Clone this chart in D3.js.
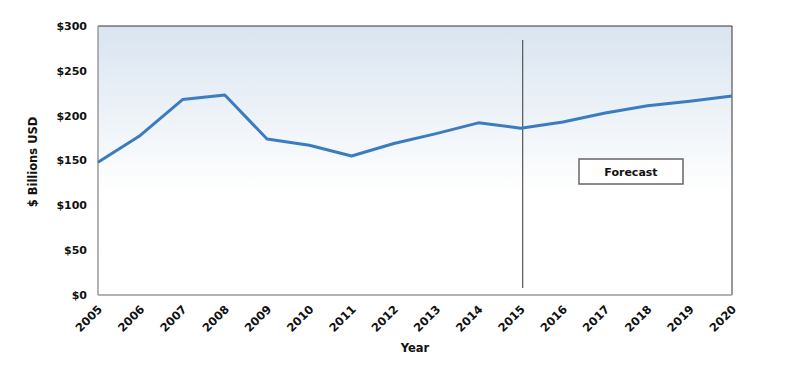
<!DOCTYPE html>
<html lang="en">
<head>
    <meta charset="UTF-8">
    <title>forecast line</title>
    <script src="https://cdn.jsdelivr.net/npm/d3@7/dist/d3.min.js"></script>
    <style>
        body { margin: 0; background: #fff; }
        svg text { font-family: "DejaVu Sans", sans-serif; font-weight: bold; fill: #111; }
        .tick-label { font-size: 11px; }
        .year-label { font-size: 11.5px; }
        .axis-title { font-size: 11.5px; }
        .frame-left, .frame-bottom { stroke: #9a9a9a; stroke-width: 1.5; }
        .frame-top, .frame-right { stroke: #333; stroke-width: 1; }
        .data-line { fill: none; stroke: #3b7cc0; stroke-width: 3; stroke-linejoin: round; }
        .split-line { stroke: #555; stroke-width: 1.2; }
        .forecast-box { fill: #fff; stroke: #666; stroke-width: 1.5; }
    </style>
</head>
<body>
    <svg width="798" height="388"></svg>
    <script>
    var years = [2005, 2006, 2007, 2008, 2009, 2010, 2011, 2012, 2013, 2014, 2015, 2016, 2017, 2018, 2019, 2020],
        values = [148, 178, 218, 223, 174, 167, 155, 169, 180, 192, 186, 193, 203, 211, 216, 222],
        yTicks = [0, 50, 100, 150, 200, 250, 300],
        splitYear = 2015,
        forecastLabel = 'Forecast',
        yTitle = '$ Billions USD',
        xTitle = 'Year';

    var svg = d3.select('svg'),
        plotL = 98, plotR = 732, plotT = 26, plotB = 295;

    var x = d3.scalePoint().domain(years).range([plotL, plotR]),
        y = d3.scaleLinear().domain([0, 300]).range([plotB, plotT]);

    var grad = svg.append('defs').append('linearGradient')
        .attr('id', 'bg').attr('x1', 0).attr('y1', 0).attr('x2', 0).attr('y2', 1);
    grad.append('stop').attr('offset', '0%').attr('stop-color', '#d9e4f0');
    grad.append('stop').attr('offset', '62%').attr('stop-color', '#ffffff');
    grad.append('stop').attr('offset', '100%').attr('stop-color', '#ffffff');

    svg.append('rect')
        .attr('x', plotL).attr('y', plotT)
        .attr('width', plotR - plotL).attr('height', plotB - plotT)
        .attr('fill', 'url(#bg)');

    svg.append('line').classed('frame-top', true)
        .attr('x1', plotL).attr('y1', plotT).attr('x2', plotR).attr('y2', plotT);
    svg.append('line').classed('frame-right', true)
        .attr('x1', plotR).attr('y1', plotT).attr('x2', plotR).attr('y2', plotB);
    svg.append('line').classed('frame-left', true)
        .attr('x1', plotL).attr('y1', plotT).attr('x2', plotL).attr('y2', plotB);
    svg.append('line').classed('frame-bottom', true)
        .attr('x1', plotL).attr('y1', plotB).attr('x2', plotR).attr('y2', plotB);

    // y tick labels
    svg.selectAll('.ytick')
        .data(yTicks)
        .enter().append('text')
        .attr('class', 'tick-label')
        .attr('x', plotL - 11)
        .attr('y', function(d) { return y(d); })
        .attr('dy', '0.35em')
        .attr('text-anchor', 'end')
        .text(function(d) { return '$' + d; });

    // x tick labels, rotated
    svg.selectAll('.xtick')
        .data(years)
        .enter().append('text')
        .attr('class', 'year-label')
        .attr('text-anchor', 'end')
        .attr('transform', function(d) {
            return 'translate(' + (x(d) + 5) + ',' + (plotB + 15) + ') rotate(-45)';
        })
        .text(function(d) { return d; });

    // forecast split
    svg.append('line').classed('split-line', true)
        .attr('x1', x(splitYear) + 2).attr('x2', x(splitYear) + 2)
        .attr('y1', 40).attr('y2', 288);

    var line = d3.line()
        .x(function(d, i) { return x(years[i]); })
        .y(function(d) { return y(d); });

    svg.append('path')
        .datum(values)
        .classed('data-line', true)
        .attr('d', line);

    svg.append('rect').classed('forecast-box', true)
        .attr('x', 579).attr('y', 159)
        .attr('width', 104).attr('height', 25);
    svg.append('text')
        .attr('class', 'tick-label')
        .attr('x', 631).attr('y', 172)
        .attr('dy', '0.35em')
        .attr('text-anchor', 'middle')
        .text(forecastLabel);

    svg.append('text')
        .attr('class', 'axis-title')
        .attr('text-anchor', 'middle')
        .attr('transform', 'translate(37,162) rotate(-90)')
        .text(yTitle);

    svg.append('text')
        .attr('class', 'axis-title')
        .attr('x', 415).attr('y', 352)
        .attr('text-anchor', 'middle')
        .text(xTitle);
    </script>
</body>
</html>
